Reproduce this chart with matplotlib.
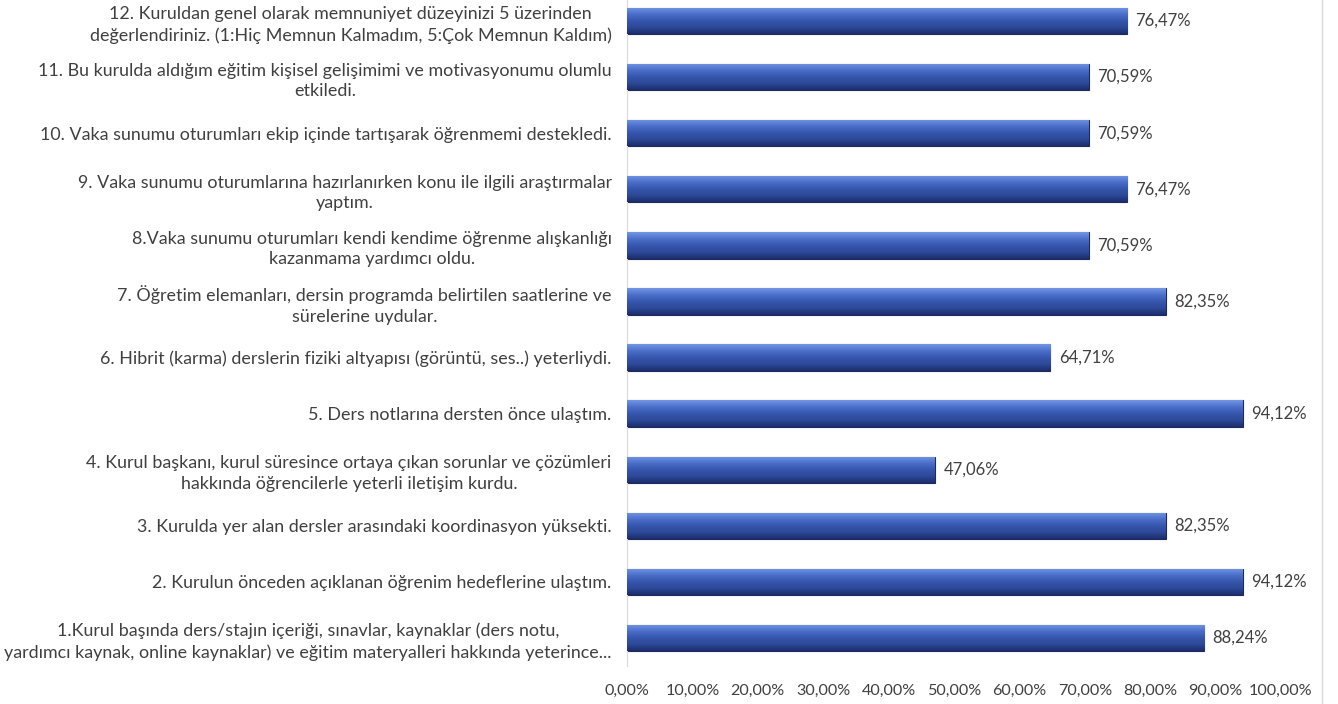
#!/usr/bin/env python3

import numpy as np
import matplotlib
matplotlib.use('Agg')
import matplotlib.pyplot as plt
from matplotlib.colors import LinearSegmentedColormap

QUESTIONS = [
    '1.Kurul başında ders/stajın içeriği, sınavlar, kaynaklar (ders notu,\n'
    'yardımcı kaynak, online kaynaklar) ve eğitim materyalleri hakkında yeterince...',
    '2. Kurulun önceden açıklanan öğrenim hedeflerine ulaştım.',
    '3. Kurulda yer alan dersler arasındaki koordinasyon yüksekti.',
    '4. Kurul başkanı, kurul süresince ortaya çıkan sorunlar ve çözümleri\n'
    'hakkında öğrencilerle yeterli iletişim kurdu.',
    '5. Ders notlarına dersten önce ulaştım.',
    '6. Hibrit (karma) derslerin fiziki altyapısı (görüntü, ses..) yeterliydi.',
    '7. Öğretim elemanları, dersin programda belirtilen saatlerine ve\n'
    'sürelerine uydular.',
    '8.Vaka sunumu oturumları kendi kendime öğrenme alışkanlığı\n'
    'kazanmama yardımcı oldu.',
    '9. Vaka sunumu oturumlarına hazırlanırken konu ile ilgili araştırmalar\n'
    'yaptım.',
    '10. Vaka sunumu oturumları ekip içinde tartışarak öğrenmemi destekledi.',
    '11. Bu kurulda aldığım eğitim kişisel gelişimimi ve motivasyonumu olumlu\n'
    'etkiledi.',
    '12. Kuruldan genel olarak memnuniyet düzeyinizi 5 üzerinden\n'
    'değerlendiriniz. (1:Hiç Memnun Kalmadım, 5:Çok Memnun Kaldım)',
]
PERCENTS = [88.24, 94.12, 82.35, 47.06, 94.12, 64.71, 82.35, 70.59, 76.47, 70.59, 70.59, 76.47]
XTICKS = [0, 10, 20, 30, 40, 50, 60, 70, 80, 90, 100]

TEXT_COLOR = '#404040'
plt.rcParams['font.family'] = ['Lato', 'DejaVu Sans']

fig = plt.figure(figsize=(13.38, 7.04), dpi=100)
ax = fig.add_axes([627 / 1338, 38 / 704, 654 / 1338, 666 / 704])

# vertical gradient for the bars (light top, dark bottom)
grad = LinearSegmentedColormap.from_list(
    'bar', ['#1c2d6b', '#2d4998', '#3657ad', '#4c6fcb', '#7396e4'])
gimg = np.linspace(0, 1, 64).reshape(-1, 1)

ypos = np.arange(len(PERCENTS))
bh = 0.47
bars = ax.barh(ypos, PERCENTS, height=bh, color='#2f4b9e', edgecolor='#1c2a60', linewidth=0.8, zorder=2)
for bar in bars:
    x0, y0 = bar.get_x(), bar.get_y()
    w, h = bar.get_width(), bar.get_height()
    im = ax.imshow(gimg, cmap=grad, aspect='auto', origin='lower',
                   extent=[x0, x0 + w, y0, y0 + h], zorder=3)
    im.set_clip_path(bar)

for y, v in zip(ypos, PERCENTS):
    ax.text(v + 1.3, y, f'{v:.2f}%'.replace('.', ','), va='center', ha='left',
            fontsize=12, color=TEXT_COLOR)

ax.set_xlim(0, 100)
ax.set_ylim(-0.5, 11.375)
ax.set_yticks(ypos)
ax.set_yticklabels(QUESTIONS, fontsize=12.9, color=TEXT_COLOR,
                   multialignment='center', linespacing=1.35)
ax.set_xticks(XTICKS)
ax.set_xticklabels([f'{t:.2f}%'.replace('.', ',') for t in XTICKS], fontsize=11.6, color=TEXT_COLOR)
ax.tick_params(axis='y', length=0, pad=11)
ax.tick_params(axis='x', length=0, pad=13)

for side in ['top', 'right', 'bottom']:
    ax.spines[side].set_visible(False)
ax.spines['left'].set_color('#d9d9d9')

# chart border on the right
fig.add_artist(plt.Line2D([1322 / 1338] * 2, [0, 1], color='#d9d9d9', linewidth=1))

fig.savefig('out.png', dpi=100)
